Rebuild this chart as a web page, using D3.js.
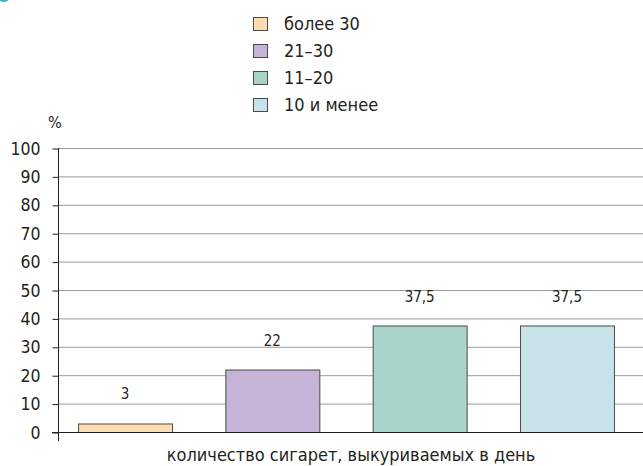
<!DOCTYPE html>
<html>
<head>
<meta charset="utf-8">
<script src="https://cdn.jsdelivr.net/npm/d3@7"></script>
<style>
  body { margin: 0; background: #fff; }
  svg { display: block; }
  text { font-family: "DejaVu Sans Condensed", "DejaVu Sans", sans-serif; fill: #231f20; }
</style>
</head>
<body>
<svg id="chart" width="643" height="466"></svg>
<script>
const categories = ["более 30", "21–30", "11–20", "10 и менее"];
const values = [3, 22, 37.5, 37.5];
const valueLabels = ["3", "22", "37,5", "37,5"];
const colors = ["#fddbb3", "#c5b3d8", "#a8d4c9", "#c7e3e9"];
const yTicks = [0, 10, 20, 30, 40, 50, 60, 70, 80, 90, 100];
const yUnit = "%";
const xTitle = "количество сигарет, выкуриваемых в день";

const svg = d3.select("#chart");

// decorative cyan fragment top-left
svg.append("circle").attr("cx", 4).attr("cy", -5).attr("r", 7).attr("fill", "#2ab7d2");

const x = d3.scaleBand().domain(categories).range([58, 634]).paddingInner(0.362).paddingOuter(0.136);
const y = d3.scaleLinear().domain([0, 100]).range([432, 148]);

// grid lines
svg.append("g").selectAll("line").data(yTicks.filter(d => d > 0)).join("line")
  .attr("x1", 58).attr("x2", 643)
  .attr("y1", d => y(d) + 0.5).attr("y2", d => y(d) + 0.5)
  .attr("stroke", "#9a9a9a").attr("stroke-width", 1);

// y axis
const yAxis = d3.axisLeft(y).tickValues(yTicks).tickSize(6).tickPadding(12).tickFormat(d3.format("d"));
const gy = svg.append("g").attr("transform", "translate(58.5,0.5)").call(yAxis);
gy.select(".domain").remove();
gy.selectAll(".tick line").attr("stroke", "#231f20");
gy.selectAll(".tick text").style("font-size", "17.5px").attr("fill", "#231f20")
  .style("font-family", "'DejaVu Sans Condensed', 'DejaVu Sans', sans-serif");
svg.append("line").attr("x1", 58.5).attr("x2", 58.5).attr("y1", y(100)).attr("y2", 441)
  .attr("stroke", "#231f20").attr("stroke-width", 1);

svg.append("text").attr("x", 48).attr("y", 128).style("font-size", "16px").text(yUnit);

// bars
svg.append("g").selectAll("rect").data(values).join("rect")
  .attr("x", (d, i) => x(categories[i]) + 0.5)
  .attr("y", d => y(d) + 0.5)
  .attr("width", x.bandwidth())
  .attr("height", d => y(0) - y(d))
  .attr("fill", (d, i) => colors[i])
  .attr("stroke", "#4a4a4a").attr("stroke-width", 1);

// zero line
svg.append("line").attr("x1", 52).attr("x2", 643).attr("y1", y(0) + 0.5).attr("y2", y(0) + 0.5)
  .attr("stroke", "#231f20").attr("stroke-width", 1);

// value labels
svg.append("g").selectAll("text").data(values).join("text")
  .attr("x", (d, i) => x(categories[i]) + x.bandwidth() / 2)
  .attr("y", d => y(d) - 24)
  .attr("text-anchor", "middle")
  .style("font-size", "15px")
  .text((d, i) => valueLabels[i]);

// x title
svg.append("text").attr("x", 351).attr("y", 461).attr("text-anchor", "middle")
  .style("font-size", "18px").text(xTitle);

// legend
const legY = [24, 51, 78, 105];
const leg = svg.append("g").selectAll("g").data(categories).join("g")
  .attr("transform", (d, i) => `translate(253,${legY[i]})`);
leg.append("rect").attr("x", 0.5).attr("y", -6.5).attr("width", 14).attr("height", 13)
  .attr("fill", (d, i) => colors[i]).attr("stroke", "#4a4a4a").attr("stroke-width", 1);
leg.append("text").attr("x", 31).attr("y", 0).attr("dy", "0.35em")
  .style("font-size", "18px").text(d => d);
</script>
</body>
</html>
